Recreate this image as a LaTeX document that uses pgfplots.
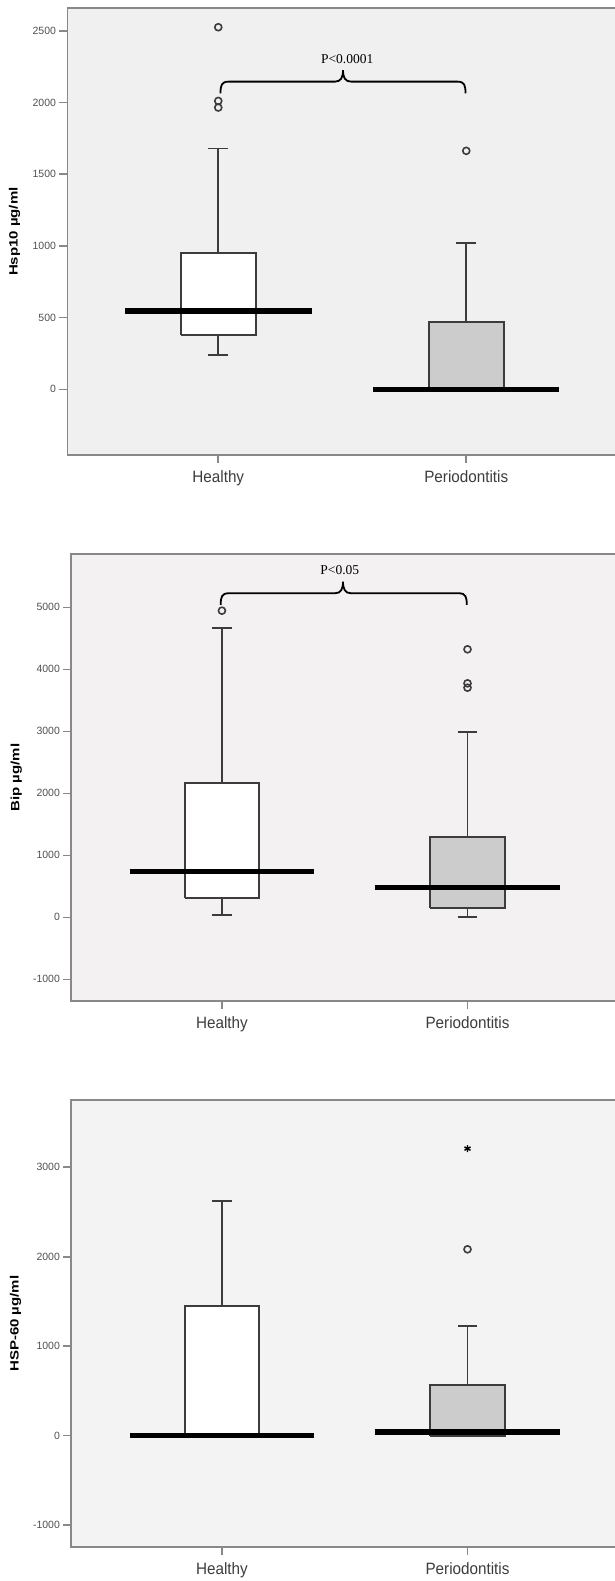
\documentclass[border=0pt]{standalone}
\usepackage{fontspec}
\setmainfont{Liberation Sans}
\newfontfamily\pfont{Liberation Serif}
\newfontfamily\labfont[FakeStretch=0.93]{Liberation Sans}
\newfontfamily\ylabfont[FakeStretch=1.25]{Liberation Sans Bold}
\usepackage{pgfplots}
\pgfplotsset{compat=1.18}

\definecolor{framegray}{RGB}{136,136,136}
\definecolor{boxline}{RGB}{60,60,60}
\definecolor{periofill}{RGB}{204,204,204}
\definecolor{bgA}{RGB}{240,240,240}
\definecolor{bgB}{RGB}{243,241,242}
\definecolor{bgC}{RGB}{243,243,243}
\definecolor{ticktext}{RGB}{80,80,80}
\definecolor{labtext}{RGB}{60,60,60}

% curly bracket over the two groups: x left, x right, x tip, y of the ends
\newcommand{\spssbrace}[4]{%
  \draw[line width=1.8pt, black]
    (axis cs:#1,#4) .. controls ([yshift=8pt]axis cs:#1,#4) and ([xshift=1pt,yshift=11.7pt]axis cs:#1,#4)
    .. ([xshift=8pt,yshift=11.7pt]axis cs:#1,#4)
    -- ([xshift=-8pt,yshift=11.7pt]axis cs:#3,#4)
    .. controls ([xshift=-2pt,yshift=11.7pt]axis cs:#3,#4) and ([yshift=16pt]axis cs:#3,#4)
    .. ([yshift=23.3pt]axis cs:#3,#4)
    .. controls ([yshift=16pt]axis cs:#3,#4) and ([xshift=2pt,yshift=11.7pt]axis cs:#3,#4)
    .. ([xshift=8pt,yshift=11.7pt]axis cs:#3,#4)
    -- ([xshift=-8pt,yshift=11.7pt]axis cs:#2,#4)
    .. controls ([xshift=-1pt,yshift=11.7pt]axis cs:#2,#4) and ([yshift=8pt]axis cs:#2,#4)
    .. (axis cs:#2,#4);
}

\pgfplotsset{
  spss/.style={
    scale only axis, height=446.7pt, anchor=south west,
    axis line style={draw=framegray, line width=1.9pt},
    tick align=outside, tick pos=left,
    xtick={1,2}, xticklabels={Healthy,Periodontitis},
    major tick length=8pt,
    tick style={draw=framegray, line width=1.6pt},
    xticklabel style={font=\labfont\fontsize{16.4}{19}\selectfont, text=labtext, yshift=-4.5pt},
    yticklabel style={font=\fontsize{10.5}{12}\selectfont, text=ticktext},
    /pgf/number format/1000 sep={},
    /pgf/number format/assume math mode=true,
    ylabel style={font=\ylabfont\fontsize{12}{14}\selectfont, anchor=center},
    unbounded coords=jump,
  },
  box/.style={draw=boxline, line width=1.9pt, line join=miter},
  whisk/.style={draw=boxline, line width=1.9pt},
  outl/.style={only marks, mark=o, mark size=3.5pt, mark options={draw=boxline, line width=1.6pt}},
  med/.style={black, line width=5.5pt},
}

\begin{document}
\begin{tikzpicture}
% Hsp10
\begin{axis}[spss, at={(67.5pt,-455pt)}, width=552.5pt,
    xmin=0.392, xmax=2.62, ymin=-458, ymax=2657,
    ytick={0,500,1000,1500,2000,2500},
    axis background/.style={fill=bgA},
    ylabel={Hsp10 µg/ml},
    ylabel style={at={(axis description cs:-0.0959,0.5)}}]
% Healthy
\addplot[whisk] coordinates {(1,953) (1,1679) (nan,nan) (0.9605,1679) (1.0395,1679)
  (nan,nan) (1,381) (1,237) (nan,nan) (0.9605,237) (1.0395,237)};
\addplot[box, fill=white] coordinates {(0.8485,381) (1.1515,381) (1.1515,953) (0.8485,953) (0.8485,381)};
\addplot[outl] coordinates {(1,2525) (1,2011) (1,1965)};
\addplot[med] coordinates {(0.624,546) (1.376,546)};
% Periodontitis
\addplot[whisk] coordinates {(2,472) (2,1019) (nan,nan) (1.9605,1019) (2.0395,1019)};
\addplot[box, fill=periofill] coordinates {(1.8485,0) (2.1515,0) (2.1515,472) (1.8485,472) (1.8485,0)};
\addplot[outl] coordinates {(2,1663)};
\addplot[med] coordinates {(1.624,0) (2.376,0)};
\spssbrace{1.009}{1.997}{1.503}{2064}
\node[font=\pfont\fontsize{13.5}{15}\selectfont] at (axis cs:1.52,2305) {P<0.0001};
\end{axis}

% Bip
\begin{axis}[spss, at={(71.4pt,-1001pt)}, width=548.6pt,
    xmin=0.387, xmax=2.621, ymin=-1349, ymax=5855,
    ytick={-1000,0,1000,2000,3000,4000,5000},
    axis background/.style={fill=bgB},
    ylabel={Bip µg/ml},
    ylabel style={at={(axis description cs:-0.1003,0.5)}}]
% Healthy
\addplot[whisk] coordinates {(1,2161) (1,4672) (nan,nan) (0.9605,4672) (1.0395,4672)
  (nan,nan) (1,317) (1,38) (nan,nan) (0.9605,38) (1.0395,38)};
\addplot[box, fill=white] coordinates {(0.8485,317) (1.1515,317) (1.1515,2161) (0.8485,2161) (0.8485,317)};
\addplot[outl] coordinates {(1,4946)};
\addplot[med] coordinates {(0.624,742) (1.376,742)};
% Periodontitis
\addplot[whisk] coordinates {(2,1301) (2,2984) (nan,nan) (1.9605,2984) (2.0395,2984)
  (nan,nan) (2,156) (2,0) (nan,nan) (1.9605,0) (2.0395,0)};
\addplot[box, fill=periofill] coordinates {(1.8485,156) (2.1515,156) (2.1515,1301) (1.8485,1301) (1.8485,156)};
\addplot[outl] coordinates {(2,4323) (2,3774) (2,3704)};
\addplot[med] coordinates {(1.624,478) (2.376,478)};
\spssbrace{0.995}{1.997}{1.493}{5038}
\node[font=\pfont\fontsize{13.5}{15}\selectfont] at (axis cs:1.48,5602) {P<0.05};
\end{axis}

% HSP-60
\begin{axis}[spss, at={(71.4pt,-1547pt)}, width=548.6pt,
    xmin=0.387, xmax=2.621, ymin=-1246, ymax=3749,
    ytick={-1000,0,1000,2000,3000},
    axis background/.style={fill=bgC},
    ylabel={HSP-60 µg/ml},
    ylabel style={at={(axis description cs:-0.102,0.5)}}]
% Healthy
\addplot[whisk] coordinates {(1,1454) (1,2626) (nan,nan) (0.9605,2626) (1.0395,2626)};
\addplot[box, fill=white] coordinates {(0.8485,0) (1.1515,0) (1.1515,1454) (0.8485,1454) (0.8485,0)};
\addplot[med] coordinates {(0.624,0) (1.376,0)};
% Periodontitis
\addplot[whisk] coordinates {(2,567) (2,1230) (nan,nan) (1.9605,1230) (2.0395,1230)};
\addplot[box, fill=periofill] coordinates {(1.8485,0) (2.1515,0) (2.1515,567) (1.8485,567) (1.8485,0)};
\addplot[outl] coordinates {(2,2083)};
\addplot[only marks, mark=asterisk, mark size=3.5pt, line width=1.4pt, black]
  coordinates {(2,3209)};
\addplot[med] coordinates {(1.624,39) (2.376,39)};
\end{axis}

\pgfresetboundingbox
\path[use as bounding box] (0pt,0pt) rectangle (615pt,-1581pt);
\end{tikzpicture}
\end{document}
